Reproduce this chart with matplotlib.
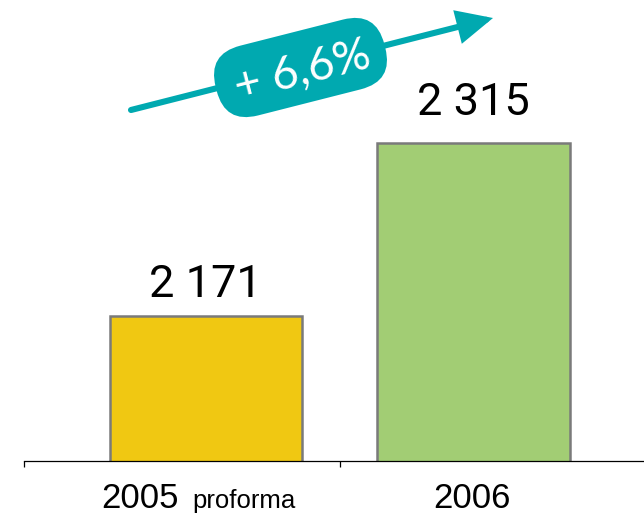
import matplotlib
matplotlib.use("Agg")
import matplotlib.pyplot as plt
import numpy as np
from matplotlib.patches import FancyArrowPatch, FancyBboxPatch
from matplotlib.transforms import Affine2D, IdentityTransform

# ---- data ----
years = ["2005", "2006"]
year_suffix = ["proforma", ""]
values = [2171, 2315]
bar_colors = ["#F0C812", "#A2CD74"]
growth_label = "+ 6,6%"

W, H = 644, 514
fig = plt.figure(figsize=(W / 100, H / 100), dpi=100)
fig.patch.set_facecolor("white")

# axes: baseline at y=461px from top, left edge 24px, to the right edge
ax = fig.add_axes([24 / W, 53 / H, 620 / W, 461 / H])
ax.set_facecolor("none")
x = np.arange(len(values))
ax.bar(x, values, width=0.718, color=bar_colors, edgecolor="#7a7a7a",
       linewidth=1.8, zorder=2)
ax.set_xlim(-0.679, 1.637)
ax.set_ylim(2050, 2050 + 461 / 1.2014)

for s in ["top", "right", "left"]:
    ax.spines[s].set_visible(False)
ax.spines["bottom"].set_linewidth(0.9)
ax.spines["bottom"].set_color("black")
ax.set_yticks([])
ax.set_xticks([-0.679, 0.5])
ax.set_xticklabels(["", ""])
ax.tick_params(axis="x", direction="out", length=4, width=0.9, color="black")

# value labels
gaps = [19, 28]  # pixels above bar top to baseline
for i, v in enumerate(values):
    ax.annotate(f"{v:,}".replace(",", " "), xy=(i, v), xytext=(0, gaps[i]),
                textcoords="offset pixels", ha="center", va="baseline",
                fontsize=32.5, family=["Roboto", "DejaVu Sans"], color="black")

# category labels
for i, (yr, suf) in enumerate(zip(years, year_suffix)):
    if suf:
        t = ax.annotate(yr, xy=(i, 0), xycoords=("data", "axes fraction"),
                        xytext=(-27, -47), textcoords="offset pixels",
                        ha="right", va="baseline", fontsize=25,
                        family=["Liberation Sans", "DejaVu Sans"])
        ax.annotate(suf, xy=(1, 0), xycoords=(t, "axes fraction"),
                    xytext=(14, -47), textcoords="offset pixels",
                    ha="left", va="baseline", fontsize=18.5,
                    family=["Liberation Sans", "DejaVu Sans"])
    else:
        ax.annotate(yr, xy=(i, 0), xycoords=("data", "axes fraction"),
                    xytext=(-2, -47), textcoords="offset pixels",
                    ha="center", va="baseline", fontsize=25,
                    family=["Liberation Sans", "DejaVu Sans"])

# growth arrow (figure pixel coordinates, origin bottom-left)
teal = "#00A9B0"
tail = (131, H - 110)
tip = (493, H - 18)
arrow = FancyArrowPatch(tail, tip, transform=IdentityTransform(),
                        arrowstyle="-|>,head_length=1.9,head_width=0.9",
                        mutation_scale=10, linewidth=4.4, color=teal,
                        shrinkA=0, shrinkB=0, joinstyle="miter")
fig.add_artist(arrow)

ang = np.degrees(np.arctan2(tip[1] - tail[1], tip[0] - tail[0]))
cx, cy = 300.5, H - 67.5
L, Hp = 174, 72
pill = FancyBboxPatch((-L / 2, -Hp / 2), L, Hp,
                      boxstyle=f"round,pad=0,rounding_size={Hp / 2 - 2}",
                      transform=Affine2D().rotate_deg(ang).translate(cx, cy),
                      facecolor=teal, edgecolor="none")
fig.add_artist(pill)
fig.text((cx + 2) / W, (cy - 4) / H, growth_label, rotation=ang,
         rotation_mode="anchor", ha="center", va="center", color="white",
         fontsize=33, fontweight="normal", family=["Lato", "DejaVu Sans"])

fig.savefig("out.png", dpi=100, facecolor="white")
